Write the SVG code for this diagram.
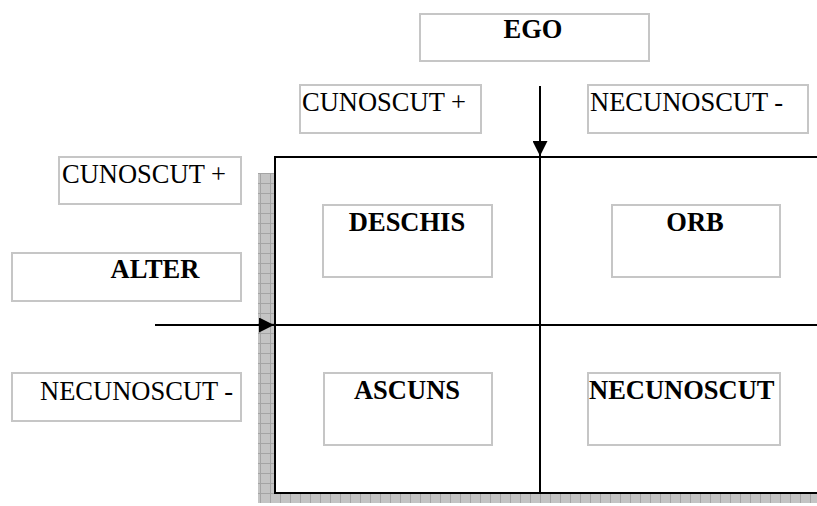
<svg xmlns="http://www.w3.org/2000/svg" width="817" height="506" viewBox="0 0 817 506">
<style>
.box{fill:#fff;stroke:#c6c6c6;stroke-width:2}
.t{font-family:"Liberation Serif","Times New Roman",serif;font-size:26.5px;fill:#000}
.b{font-weight:bold}
.ln{stroke:#000;stroke-width:2;fill:none}
</style>
<defs>
<pattern id="grid" x="0" y="3" width="10" height="10" patternUnits="userSpaceOnUse">
<rect width="10" height="10" fill="#c4c4c4"/>
<path d="M0 0.5H10M0.5 0V10" stroke="#a4a4a4" stroke-width="1"/>
</pattern>
<marker id="arr" viewBox="0 0 10 10" refX="10" refY="5" markerWidth="15" markerHeight="15" markerUnits="userSpaceOnUse" orient="auto">
<path d="M0 0L10 5L0 10Z" fill="#000"/>
</marker>
</defs>
<rect width="817" height="506" fill="#fff"/>
<g id="frame">
<rect x="258" y="173" width="570" height="330" fill="url(#grid)"/>
<rect x="275" y="157" width="560" height="336" fill="#fff" stroke="#000" stroke-width="2"/>
</g>
<g id="connectors">
<line class="ln" x1="540" y1="157" x2="540" y2="493"/>
<line class="ln" x1="275" y1="325" x2="817" y2="325"/>
<line class="ln" x1="540" y1="86" x2="540" y2="156" marker-end="url(#arr)"/>
<line class="ln" x1="155" y1="325" x2="274" y2="325" marker-end="url(#arr)"/>
</g>
<g id="ego"><rect class="box" x="420" y="14" width="229" height="47"/><text class="t b" x="533" y="38" text-anchor="middle">EGO</text></g>
<g id="top-cunoscut"><rect class="box" x="300" y="85" width="181" height="48"/><text class="t" x="302" y="111">CUNOSCUT +</text></g>
<g id="top-necunoscut"><rect class="box" x="588" y="85" width="220" height="48"/><text class="t" x="590" y="111">NECUNOSCUT -</text></g>
<g id="left-cunoscut"><rect class="box" x="59" y="157" width="182" height="47"/><text class="t" x="62" y="183">CUNOSCUT +</text></g>
<g id="alter"><rect class="box" x="12" y="253" width="229" height="48"/><text class="t b" x="155" y="278" text-anchor="middle">ALTER</text></g>
<g id="left-necunoscut"><rect class="box" x="12" y="373" width="229" height="48"/><text class="t" x="40" y="400">NECUNOSCUT -</text></g>
<g id="deschis"><rect class="box" x="323" y="205" width="169" height="72"/><text class="t b" x="407" y="231" text-anchor="middle">DESCHIS</text></g>
<g id="orb"><rect class="box" x="612" y="205" width="168" height="72"/><text class="t b" x="695" y="231" text-anchor="middle">ORB</text></g>
<g id="ascuns"><rect class="box" x="324" y="373" width="168" height="72"/><text class="t b" x="407" y="399" text-anchor="middle">ASCUNS</text></g>
<g id="necunoscut"><rect class="box" x="588" y="373" width="192" height="72"/><text class="t b" x="589" y="399">NECUNOSCUT</text></g>
</svg>
